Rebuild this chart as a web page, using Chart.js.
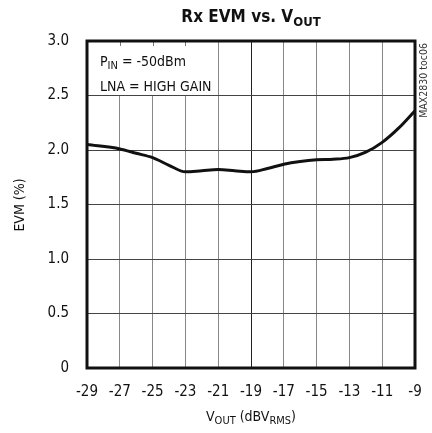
<!DOCTYPE html>
<html>
<head>
<meta charset="utf-8">
<script src="https://cdn.jsdelivr.net/npm/chart.js@4.4.1/dist/chart.umd.min.js"></script>
<style>
  html, body { margin: 0; padding: 0; background: #fff; }
  #wrap { width: 432px; height: 433px; position: relative; }
</style>
</head>
<body>
<div id="wrap"><canvas id="c"></canvas></div>
<script>
// Rx EVM vs. VOUT
const vout = [-29, -27, -26, -25, -24, -23, -22, -21, -20, -19, -18, -17, -16, -15, -14, -13, -12, -11, -10, -9]
const evm = [2.05, 2.01, 1.97, 1.93, 1.86, 1.80, 1.81, 1.82, 1.81, 1.80, 1.83, 1.87, 1.895, 1.91, 1.915, 1.93, 1.98, 2.07, 2.20, 2.36]
const xTicks = [-29, -27, -25, -23, -21, -19, -17, -15, -13, -11, -9]
const yTicks = [0, 0.5, 1.0, 1.5, 2.0, 2.5, 3.0]

const FONT = "'Liberation Sans Narrow', 'DejaVu Sans Condensed', sans-serif"

// draws text with subscript parts: [[text, isSub], ...]
function drawRich(ctx, parts, x, y, size, weight, align) {
  const subSize = Math.round(size * 0.78)
  let total = 0
  const widths = parts.map(([t, sub]) => {
    ctx.font = `${weight} ${sub ? subSize : size}px ${FONT}`
    const w = ctx.measureText(t).width
    total += w
    return w
  })
  let cx = align === 'center' ? x - total / 2 : x
  ctx.textAlign = 'left'
  ctx.textBaseline = 'alphabetic'
  parts.forEach(([t, sub], i) => {
    ctx.font = `${weight} ${sub ? subSize : size}px ${FONT}`
    ctx.fillText(t, cx, sub ? y + size * 0.22 : y)
    cx += widths[i]
  })
}

const decor = {
  id: 'decor',
  beforeDatasetsDraw(chart) {
    const { ctx, scales: { x, y } } = chart
    // white label box over the grid, top-left
    const left = x.getPixelForValue(-29), right = x.getPixelForValue(-21)
    const top = y.getPixelForValue(3.0), bot = y.getPixelForValue(2.5)
    ctx.save()
    ctx.fillStyle = '#fff'
    ctx.fillRect(left + 1, top + 1, right - left - 1.5, bot - top - 1.5)
    ctx.strokeStyle = '#777'
    ctx.lineWidth = 1
    ;[-27, -25, -23].forEach(v => {
      const px = Math.round(x.getPixelForValue(v)) + 0.5
      ctx.beginPath(); ctx.moveTo(px, top); ctx.lineTo(px, top + 5); ctx.stroke()
    })
    ctx.fillStyle = '#111'
    drawRich(ctx, [['P', false], ['IN', true], [' = -50dBm', false]], left + 13, top + 25, 14, 'normal', 'left')
    drawRich(ctx, [['LNA = HIGH GAIN', false]], left + 13, top + 50, 14, 'normal', 'left')
    ctx.restore()
  },
  afterDraw(chart) {
    const { ctx, chartArea: a } = chart
    ctx.save()
    ctx.strokeStyle = '#111'
    ctx.lineWidth = 3
    ctx.strokeRect(a.left, a.top, a.right - a.left, a.bottom - a.top)
    ctx.fillStyle = '#111'
    drawRich(ctx, [['Rx EVM vs. V', false], ['OUT', true]], 251, 22, 17, 'bold', 'center')
    drawRich(ctx, [['V', false], ['OUT', true], [' (dBV', false], ['RMS', true], [')', false]], 251, 421, 14, 'normal', 'center')
    ctx.translate(24, 205)
    ctx.rotate(-Math.PI / 2)
    drawRich(ctx, [['EVM (%)', false]], 0, 0, 14, 'normal', 'center')
    ctx.restore()
    // figure id, reading bottom to top along the right edge
    ctx.save()
    ctx.translate(424, 43)
    ctx.rotate(-Math.PI / 2)
    ctx.fillStyle = '#333'
    ctx.font = `10.5px ${FONT}`
    ctx.textAlign = 'right'
    ctx.textBaseline = 'middle'
    ctx.fillText('MAX2830 toc06', 0, 0)
    ctx.restore()
  }
}

new Chart(document.getElementById('c'), {
  type: 'line',
  data: {
    datasets: [{
      data: vout.map((v, i) => ({ x: v, y: evm[i] })),
      borderColor: '#111',
      borderWidth: 3,
      pointRadius: 0,
      tension: 0.4,
      cubicInterpolationMode: 'monotone',
      fill: false
    }]
  },
  options: {
    animation: false,
    responsive: true,
    maintainAspectRatio: false,
    layout: { padding: { left: 0, right: 17, top: 41, bottom: 0 } },
    plugins: { legend: { display: false }, tooltip: { enabled: false } },
    scales: {
      x: {
        type: 'linear',
        min: -29, max: -9,
        afterBuildTicks: s => { s.ticks = xTicks.map(v => ({ value: v })) },
        afterFit: s => { s.height = 65; s.paddingLeft = 0; s.paddingRight = 0 },
        grid: {
          color: ctx => ctx.tick && ctx.tick.value === -19 ? '#222' : '#888',
          lineWidth: 1,
          drawTicks: false
        },
        border: { display: false },
        ticks: {
          color: '#111',
          padding: 15,
          maxRotation: 0,
          font: { family: FONT, size: 15 },
          callback: v => String(v)
        }
      },
      y: {
        min: 0, max: 3,
        afterBuildTicks: s => { s.ticks = yTicks.map(v => ({ value: v })) },
        afterFit: s => { s.width = 87; s.paddingTop = 0; s.paddingBottom = 0 },
        grid: { color: '#444', lineWidth: 1, drawTicks: false },
        border: { display: false },
        ticks: {
          color: '#111',
          padding: 18,
          font: { family: FONT, size: 15 },
          callback: v => v === 0 ? '0' : v.toFixed(1)
        }
      }
    }
  },
  plugins: [decor]
})
</script>
</body>
</html>
